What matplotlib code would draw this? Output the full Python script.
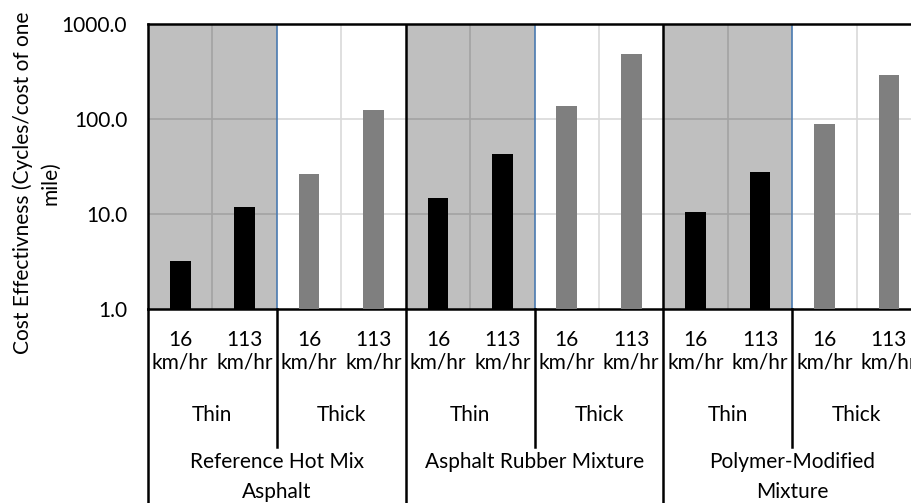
import numpy as np
import matplotlib.pyplot as plt
import matplotlib.transforms as mtransforms

plt.rcParams['font.family'] = ['Lato', 'DejaVu Sans']

# data
mixtures = [['Reference Hot Mix', 'Asphalt'], ['Asphalt Rubber Mixture'],
            ['Polymer-Modified', 'Mixture']]
thickness = ['Thin', 'Thick']
speeds = ['16', '113']
unit = 'km/hr'
values = [3.2, 11.9, 26.5, 124, 14.8, 43, 137, 480, 10.5, 27.5, 89, 290]

n = len(values)
x = np.arange(n)
bar_colors = ['black' if (i // 2) % 2 == 0 else '#7f7f7f' for i in range(n)]
fs = 15

fig = plt.figure(figsize=(9.12, 5.03), dpi=100)
ax = fig.add_axes([148/912, (503-309)/503, (912-148)/912 + 0.01, (309-24)/503])

ax.set_yscale('log')
ax.set_ylim(1, 1000)
ax.set_xlim(-0.5, n - 0.5)

# grid
for yv in [10, 100]:
    ax.axhline(yv, color='#d9d9d9', lw=1.2, zorder=0)
for xv in [0.5, 2.5, 4.5, 6.5, 8.5, 10.5]:
    ax.axvline(xv, color='#d9d9d9', lw=1.2, zorder=0)

# shading for thin groups
for k in range(3):
    ax.axvspan(4*k - 0.5, 4*k + 1.5, color='black', alpha=0.25, lw=0, zorder=1)
    ax.axvline(4*k + 1.5, color='#4a7ab0', lw=1.2, zorder=2)

ax.bar(x, values, width=0.32, color=bar_colors, zorder=3)

for xv in [3.5, 7.5]:
    ax.axvline(xv, color='black', lw=1.8, zorder=4)

ax.set_yticks([1, 10, 100, 1000])
ax.set_yticklabels(['1.0', '10.0', '100.0', '1000.0'], fontsize=fs)
ax.yaxis.set_minor_locator(plt.NullLocator())
ax.tick_params(axis='y', length=0, pad=15)
ax.set_xticks([])
for s in ['left', 'bottom', 'top']:
    ax.spines[s].set_linewidth(1.8)
ax.spines['right'].set_visible(False)

fig.text(36/912, (503-183)/503, 'Cost Effectivness (Cycles/cost of one\nmile)',
         rotation=90, ha='center', va='center', fontsize=fs, linespacing=1.45)

# multi-level category labels
trans = mtransforms.blended_transform_factory(ax.transData, ax.transAxes)
for i in range(n):
    ax.text(x[i], -0.109, speeds[i % 2], transform=trans, ha='center', va='center', fontsize=fs)
    ax.text(x[i], -0.186, unit, transform=trans, ha='center', va='center', fontsize=fs)
for j in range(6):
    ax.text(2*j + 0.5, -0.372, thickness[j % 2], transform=trans, ha='center',
            va='center', fontsize=fs)
for k in range(3):
    for m, line in enumerate(mixtures[k]):
        ax.text(4*k + 1.5, -0.537 - 0.105*m, line, transform=trans, ha='center',
                va='center', fontsize=fs)

for xv in [1.5, 5.5, 9.5]:
    ax.plot([xv, xv], [0, -0.484], color='black', lw=1.8, transform=trans, clip_on=False)
for xv in [-0.5, 3.5, 7.5]:
    ax.plot([xv, xv], [0, -0.7], color='black', lw=1.8, transform=trans, clip_on=False)

fig.savefig('out.png', dpi=100)
